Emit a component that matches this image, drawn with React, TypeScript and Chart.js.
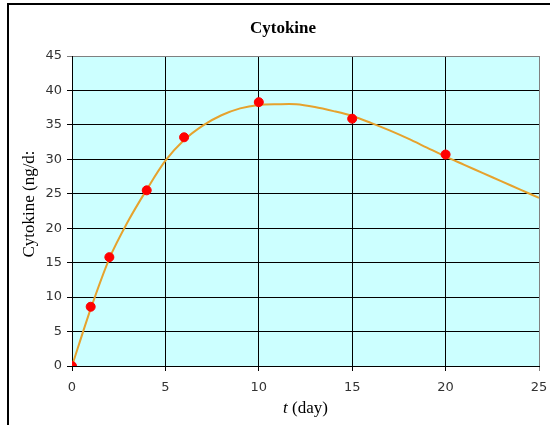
import React, { useEffect, useRef } from "react";
import { Chart, registerables } from "chart.js";

Chart.register(...registerables);

// measured data (red markers)
const measuredDays = [0, 1, 2, 4, 6, 10, 15, 20];
const measuredCytokine = [0, 8.6, 15.8, 25.5, 33.2, 38.3, 35.9, 30.7];

// fitted model curve (orange line)
const curveDays = [0, 1, 2, 3, 4, 5, 6, 7, 8, 9, 10, 11, 12, 13, 14, 15, 16, 17, 18, 19, 20, 21, 22, 23, 24, 25];
const curveCytokine = [0, 8.3, 15.6, 21.0, 25.6, 29.8, 32.8, 34.9, 36.4, 37.4, 37.9, 38.0, 38.0, 37.6, 37.0, 36.3, 35.3, 34.2, 33.0, 31.7, 30.4, 29.2, 28.0, 26.8, 25.6, 24.4];

const chartTitle = "Cytokine";
const yTitle = "Cytokine (ng/d:";
const xTitleVar = "t";
const xTitleUnit = " (day)";

export default function App() {
  const canvasRef = useRef<HTMLCanvasElement | null>(null);

  useEffect(() => {
    const canvas = canvasRef.current;
    if (!canvas) return;

    const textPlugin = {
      id: "excelTexts",
      afterDraw(chart: any) {
        const ctx = chart.ctx as CanvasRenderingContext2D;
        const area = chart.chartArea;
        ctx.save();
        ctx.fillStyle = "#000";
        // chart title
        ctx.font = "bold 17px 'Liberation Serif'";
        ctx.textAlign = "center";
        ctx.textBaseline = "middle";
        ctx.fillText(chartTitle, 283, 29);
        // x title: italic t + (day)
        ctx.font = "italic 17px 'Liberation Serif'";
        const w1 = ctx.measureText(xTitleVar).width;
        ctx.font = "17px 'Liberation Serif'";
        const w2 = ctx.measureText(xTitleUnit).width;
        const cx = (area.left + area.right) / 2;
        const x0 = cx - (w1 + w2) / 2;
        ctx.textAlign = "left";
        ctx.font = "italic 17px 'Liberation Serif'";
        ctx.fillText(xTitleVar, x0, 409);
        ctx.font = "17px 'Liberation Serif'";
        ctx.fillText(xTitleUnit, x0 + w1, 409);
        // y title
        ctx.translate(30, 204);
        ctx.rotate(-Math.PI / 2);
        ctx.textAlign = "center";
        ctx.font = "17px 'Liberation Serif'";
        ctx.fillText(yTitle, 0, 0);
        ctx.restore();
      },
    };

    const bgPlugin = {
      id: "plotBg",
      beforeDraw(chart: any) {
        const ctx = chart.ctx as CanvasRenderingContext2D;
        const a = chart.chartArea;
        ctx.save();
        ctx.fillStyle = "#ffffff";
        ctx.fillRect(0, 0, chart.width, chart.height);
        ctx.fillStyle = "#CCFFFF";
        ctx.fillRect(a.left, a.top, a.right - a.left, a.bottom - a.top);
        ctx.restore();
      },
    };

    const chart = new Chart(canvas, {
      type: "scatter",
      data: {
        datasets: [
          {
            label: "model",
            data: curveDays.map((d, i) => ({ x: d, y: curveCytokine[i] })),
            showLine: true,
            borderColor: "rgb(230,162,45)",
            borderWidth: 2,
            pointRadius: 0,
            tension: 0.3,
            order: 2,
          },
          {
            label: "data",
            data: measuredDays.map((d, i) => ({ x: d, y: measuredCytokine[i] })),
            showLine: false,
            backgroundColor: "#FF0000",
            borderColor: "#FF0000",
            pointRadius: 4.5,
            order: 1,
          },
        ],
      },
      options: {
        responsive: false,
        animation: false,
        layout: { padding: { left: 8, right: 11, top: 56, bottom: 0 } },
        plugins: {
          legend: { display: false },
          title: { display: false },
          tooltip: { enabled: false },
        },
        scales: {
          x: {
            type: "linear",
            min: 0,
            max: 25,
            afterFit: (s: any) => {
              s.height = 59;
              s.paddingLeft = 0;
              s.paddingRight = 0;
            },
            ticks: {
              stepSize: 5,
              color: "#333",
              font: { family: "'DejaVu Sans'", size: 13 },
              padding: 9,
            },
            grid: {
              color: (c: any) => (c.tick && c.tick.value === 25 ? "#808080" : "#000"),
              lineWidth: 1,
              tickLength: 5,
            },
            border: { color: "#000", width: 1 },
          },
          y: {
            min: 0,
            max: 45,
            afterFit: (s: any) => {
              s.width = 64;
              s.paddingTop = 0;
              s.paddingBottom = 0;
            },
            ticks: {
              stepSize: 5,
              color: "#333",
              font: { family: "'DejaVu Sans'", size: 13 },
              padding: 5,
            },
            grid: {
              color: (c: any) => (c.tick && c.tick.value === 45 ? "#808080" : "#000"),
              lineWidth: 1,
              tickLength: 5,
            },
            border: { color: "#000", width: 1 },
          },
        },
      },
      plugins: [bgPlugin, textPlugin],
    });

    return () => chart.destroy();
  }, []);

  return (
    <div
      style={{
        position: "fixed",
        left: 0,
        top: 0,
        width: 550,
        height: 425,
        overflow: "hidden",
        background: "#fff",
      }}
    >
      <canvas ref={canvasRef} width={550} height={425} style={{ position: "absolute", left: 0, top: 0 }} />
      <div
        style={{
          position: "absolute",
          left: 7,
          top: 3,
          width: 600,
          height: 500,
          borderLeft: "2px solid #000",
          borderTop: "2px solid #000",
          boxSizing: "border-box",
          pointerEvents: "none",
        }}
      />
    </div>
  );
}
